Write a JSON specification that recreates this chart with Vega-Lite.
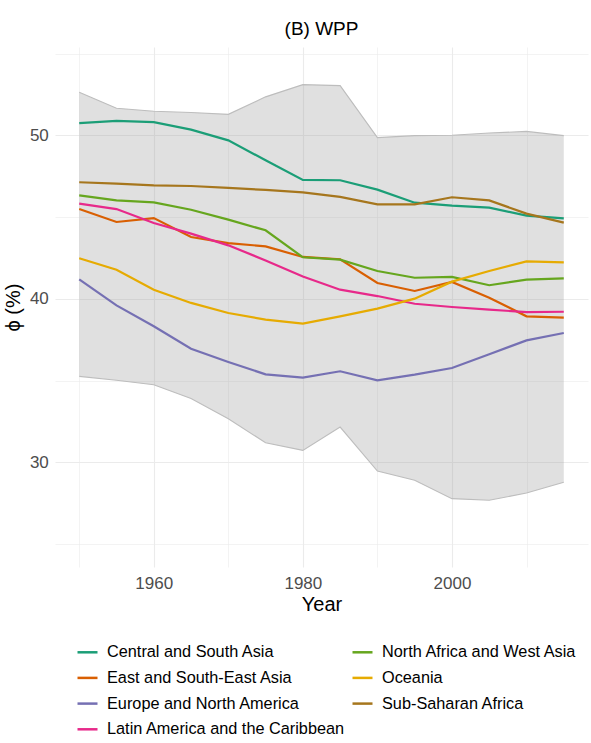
{
  "$schema": "https://vega.github.io/schema/vega-lite/v6.json",
  "autosize": {"type": "none"},
  "padding": {"left": 55, "top": 47, "right": 3, "bottom": 176},
  "width": 533,
  "height": 520,
  "title": {"text": "(B) WPP", "fontSize": 19, "font": "Liberation Sans", "fontWeight": "normal", "color": "#000000", "anchor": "middle", "frame": "group", "baseline": "alphabetic", "offset": 13, "dy": 20},
  "config": {
    "view": {"stroke": null},
    "font": "Liberation Sans",
    "axis": {"domain": false, "ticks": false, "gridColor": "#EBEBEB", "labelFont": "Liberation Sans", "titleFont": "Liberation Sans", "labelFontSize": 17, "labelColor": "#4D4D4D", "titleFontSize": 20, "titleFontWeight": "normal", "titleColor": "#000000"},
    "legend": {"labelFont": "Liberation Sans"}
  },
  "datasets": {
    "band": [
      {"year": 1950, "lower": 35.26, "upper": 52.63},
      {"year": 1955, "lower": 35.02, "upper": 51.65},
      {"year": 1960, "lower": 34.75, "upper": 51.47},
      {"year": 1965, "lower": 33.90, "upper": 51.39},
      {"year": 1970, "lower": 32.67, "upper": 51.28},
      {"year": 1975, "lower": 31.20, "upper": 52.35},
      {"year": 1980, "lower": 30.73, "upper": 53.10},
      {"year": 1985, "lower": 32.16, "upper": 53.04},
      {"year": 1990, "lower": 29.47, "upper": 49.86},
      {"year": 1995, "lower": 28.90, "upper": 49.98},
      {"year": 2000, "lower": 27.78, "upper": 50.00},
      {"year": 2005, "lower": 27.68, "upper": 50.14},
      {"year": 2010, "lower": 28.12, "upper": 50.24},
      {"year": 2015, "lower": 28.78, "upper": 49.98}
    ],
    "regions": [
      {"region": "Central and South Asia", "year": 1950, "phi": 50.75},
      {"region": "Central and South Asia", "year": 1955, "phi": 50.88},
      {"region": "Central and South Asia", "year": 1960, "phi": 50.80},
      {"region": "Central and South Asia", "year": 1965, "phi": 50.35},
      {"region": "Central and South Asia", "year": 1970, "phi": 49.69},
      {"region": "Central and South Asia", "year": 1975, "phi": 48.47},
      {"region": "Central and South Asia", "year": 1980, "phi": 47.27},
      {"region": "Central and South Asia", "year": 1985, "phi": 47.25},
      {"region": "Central and South Asia", "year": 1990, "phi": 46.68},
      {"region": "Central and South Asia", "year": 1995, "phi": 45.88},
      {"region": "Central and South Asia", "year": 2000, "phi": 45.70},
      {"region": "Central and South Asia", "year": 2005, "phi": 45.58},
      {"region": "Central and South Asia", "year": 2010, "phi": 45.09},
      {"region": "Central and South Asia", "year": 2015, "phi": 44.92},
      {"region": "East and South-East Asia", "year": 1950, "phi": 45.49},
      {"region": "East and South-East Asia", "year": 1955, "phi": 44.70},
      {"region": "East and South-East Asia", "year": 1960, "phi": 44.94},
      {"region": "East and South-East Asia", "year": 1965, "phi": 43.78},
      {"region": "East and South-East Asia", "year": 1970, "phi": 43.41},
      {"region": "East and South-East Asia", "year": 1975, "phi": 43.21},
      {"region": "East and South-East Asia", "year": 1980, "phi": 42.56},
      {"region": "East and South-East Asia", "year": 1985, "phi": 42.42},
      {"region": "East and South-East Asia", "year": 1990, "phi": 40.97},
      {"region": "East and South-East Asia", "year": 1995, "phi": 40.48},
      {"region": "East and South-East Asia", "year": 2000, "phi": 41.03},
      {"region": "East and South-East Asia", "year": 2005, "phi": 40.07},
      {"region": "East and South-East Asia", "year": 2010, "phi": 38.93},
      {"region": "East and South-East Asia", "year": 2015, "phi": 38.85},
      {"region": "Europe and North America", "year": 1950, "phi": 41.19},
      {"region": "Europe and North America", "year": 1955, "phi": 39.60},
      {"region": "Europe and North America", "year": 1960, "phi": 38.32},
      {"region": "Europe and North America", "year": 1965, "phi": 36.95},
      {"region": "Europe and North America", "year": 1970, "phi": 36.14},
      {"region": "Europe and North America", "year": 1975, "phi": 35.38},
      {"region": "Europe and North America", "year": 1980, "phi": 35.18},
      {"region": "Europe and North America", "year": 1985, "phi": 35.57},
      {"region": "Europe and North America", "year": 1990, "phi": 35.02},
      {"region": "Europe and North America", "year": 1995, "phi": 35.36},
      {"region": "Europe and North America", "year": 2000, "phi": 35.77},
      {"region": "Europe and North America", "year": 2005, "phi": 36.61},
      {"region": "Europe and North America", "year": 2010, "phi": 37.46},
      {"region": "Europe and North America", "year": 2015, "phi": 37.91},
      {"region": "Latin America and the Caribbean", "year": 1950, "phi": 45.82},
      {"region": "Latin America and the Caribbean", "year": 1955, "phi": 45.49},
      {"region": "Latin America and the Caribbean", "year": 1960, "phi": 44.64},
      {"region": "Latin America and the Caribbean", "year": 1965, "phi": 43.99},
      {"region": "Latin America and the Caribbean", "year": 1970, "phi": 43.27},
      {"region": "Latin America and the Caribbean", "year": 1975, "phi": 42.35},
      {"region": "Latin America and the Caribbean", "year": 1980, "phi": 41.36},
      {"region": "Latin America and the Caribbean", "year": 1985, "phi": 40.56},
      {"region": "Latin America and the Caribbean", "year": 1990, "phi": 40.17},
      {"region": "Latin America and the Caribbean", "year": 1995, "phi": 39.70},
      {"region": "Latin America and the Caribbean", "year": 2000, "phi": 39.50},
      {"region": "Latin America and the Caribbean", "year": 2005, "phi": 39.34},
      {"region": "Latin America and the Caribbean", "year": 2010, "phi": 39.19},
      {"region": "Latin America and the Caribbean", "year": 2015, "phi": 39.21},
      {"region": "North Africa and West Asia", "year": 1950, "phi": 46.33},
      {"region": "North Africa and West Asia", "year": 1955, "phi": 46.02},
      {"region": "North Africa and West Asia", "year": 1960, "phi": 45.90},
      {"region": "North Africa and West Asia", "year": 1965, "phi": 45.45},
      {"region": "North Africa and West Asia", "year": 1970, "phi": 44.84},
      {"region": "North Africa and West Asia", "year": 1975, "phi": 44.19},
      {"region": "North Africa and West Asia", "year": 1980, "phi": 42.54},
      {"region": "North Africa and West Asia", "year": 1985, "phi": 42.40},
      {"region": "North Africa and West Asia", "year": 1990, "phi": 41.70},
      {"region": "North Africa and West Asia", "year": 1995, "phi": 41.29},
      {"region": "North Africa and West Asia", "year": 2000, "phi": 41.34},
      {"region": "North Africa and West Asia", "year": 2005, "phi": 40.83},
      {"region": "North Africa and West Asia", "year": 2010, "phi": 41.17},
      {"region": "North Africa and West Asia", "year": 2015, "phi": 41.25},
      {"region": "Oceania", "year": 1950, "phi": 42.48},
      {"region": "Oceania", "year": 1955, "phi": 41.78},
      {"region": "Oceania", "year": 1960, "phi": 40.56},
      {"region": "Oceania", "year": 1965, "phi": 39.75},
      {"region": "Oceania", "year": 1970, "phi": 39.13},
      {"region": "Oceania", "year": 1975, "phi": 38.73},
      {"region": "Oceania", "year": 1980, "phi": 38.48},
      {"region": "Oceania", "year": 1985, "phi": 38.93},
      {"region": "Oceania", "year": 1990, "phi": 39.40},
      {"region": "Oceania", "year": 1995, "phi": 40.01},
      {"region": "Oceania", "year": 2000, "phi": 41.05},
      {"region": "Oceania", "year": 2005, "phi": 41.70},
      {"region": "Oceania", "year": 2010, "phi": 42.29},
      {"region": "Oceania", "year": 2015, "phi": 42.23},
      {"region": "Sub-Saharan Africa", "year": 1950, "phi": 47.13},
      {"region": "Sub-Saharan Africa", "year": 1955, "phi": 47.04},
      {"region": "Sub-Saharan Africa", "year": 1960, "phi": 46.94},
      {"region": "Sub-Saharan Africa", "year": 1965, "phi": 46.90},
      {"region": "Sub-Saharan Africa", "year": 1970, "phi": 46.78},
      {"region": "Sub-Saharan Africa", "year": 1975, "phi": 46.66},
      {"region": "Sub-Saharan Africa", "year": 1980, "phi": 46.51},
      {"region": "Sub-Saharan Africa", "year": 1985, "phi": 46.23},
      {"region": "Sub-Saharan Africa", "year": 1990, "phi": 45.78},
      {"region": "Sub-Saharan Africa", "year": 1995, "phi": 45.78},
      {"region": "Sub-Saharan Africa", "year": 2000, "phi": 46.21},
      {"region": "Sub-Saharan Africa", "year": 2005, "phi": 46.02},
      {"region": "Sub-Saharan Africa", "year": 2010, "phi": 45.21},
      {"region": "Sub-Saharan Africa", "year": 2015, "phi": 44.66}
    ]
  },
  "layer": [
    {
      "data": {"name": "band"},
      "mark": {"type": "area", "fill": "#999999", "opacity": 0.3, "stroke": null},
      "encoding": {
        "x": {"field": "year", "type": "quantitative", "title": "Year",
          "scale": {"domain": [1946.75, 2018.25], "nice": false, "zero": false},
          "axis": {"values": [1950, 1960, 1970, 1980, 1990, 2000, 2010], "format": "d",
            "labelExpr": "datum.value % 20 === 0 ? datum.label : ''",
            "gridWidth": {"condition": {"test": "datum.value % 20 === 0", "value": 1.1}, "value": 0.6},
            "labelPadding": 8, "titleY": 37.5, "titleBaseline": "middle", "titleAnchor": "middle"}},
        "y": {"field": "upper", "type": "quantitative", "title": "ϕ (%)",
          "scale": {"domain": [23.6, 55.4], "nice": false, "zero": false},
          "axis": {"values": [25, 30, 35, 40, 45, 50, 55],
            "labelExpr": "datum.value % 10 === 0 ? datum.label : ''",
            "gridWidth": {"condition": {"test": "datum.value % 10 === 0", "value": 1.1}, "value": 0.6},
            "labelPadding": 6.7, "titleX": -42, "titleY": 260, "titleAngle": -90, "titleBaseline": "middle", "titleAlign": "center"}},
        "y2": {"field": "lower"}
      }
    },
    {
      "data": {"name": "band"},
      "mark": {"type": "line", "color": "#BDBDBD", "strokeWidth": 1.1},
      "encoding": {
        "x": {"field": "year", "type": "quantitative", "title": "Year"},
        "y": {"field": "upper", "type": "quantitative", "title": "ϕ (%)"}
      }
    },
    {
      "data": {"name": "band"},
      "mark": {"type": "line", "color": "#BDBDBD", "strokeWidth": 1.1},
      "encoding": {
        "x": {"field": "year", "type": "quantitative", "title": "Year"},
        "y": {"field": "lower", "type": "quantitative", "title": "ϕ (%)"}
      }
    },
    {
      "mark": {"type": "rule", "color": "#3A3A3A", "strokeWidth": 1.6},
      "encoding": {
        "y": {"datum": 50, "type": "quantitative", "title": "ϕ (%)"}
      }
    },
    {
      "data": {"name": "regions"},
      "mark": {"type": "line", "strokeWidth": 2.2},
      "encoding": {
        "x": {"field": "year", "type": "quantitative", "title": "Year"},
        "y": {"field": "phi", "type": "quantitative", "title": "ϕ (%)"},
        "color": {"field": "region", "type": "nominal",
          "scale": {
            "domain": ["Central and South Asia", "East and South-East Asia", "Europe and North America", "Latin America and the Caribbean", "North Africa and West Asia", "Oceania", "Sub-Saharan Africa"],
            "range": ["#1B9E77", "#D95F02", "#7570B3", "#E7298A", "#66A61E", "#E6AB02", "#A6761D"]
          },
          "legend": {"title": null, "orient": "none", "legendX": 21, "legendY": 593.7, "columns": 2, "columnPadding": 1,
            "symbolType": "stroke", "symbolSize": 400, "symbolStrokeWidth": 2.5,
            "labelFontSize": 16.3, "labelColor": "#000000", "labelOffset": 8, "rowPadding": 5.7, "padding": 0, "labelLimit": 400}
        }
      }
    }
  ]
}
